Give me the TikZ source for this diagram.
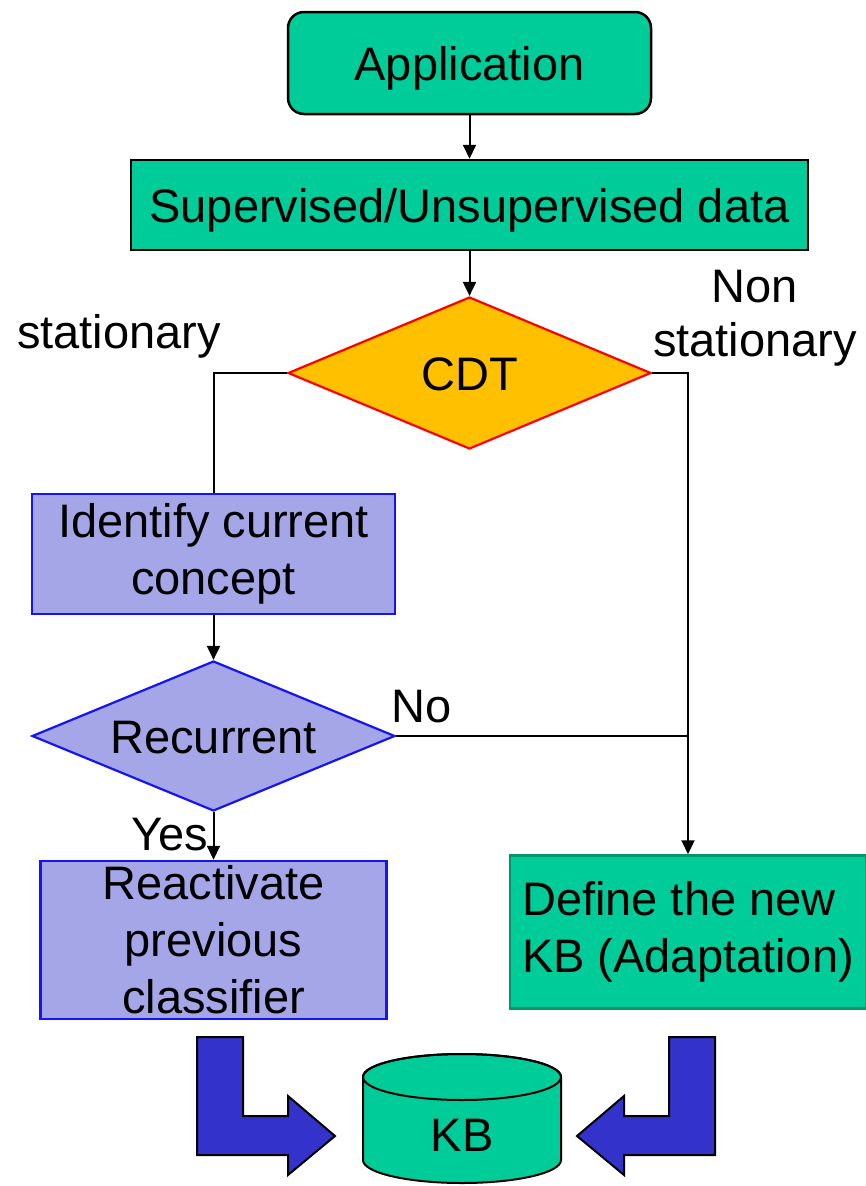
\documentclass[tikz,border=0pt]{standalone}
\usepackage{fontspec}
\setmainfont{Liberation Sans}
\usetikzlibrary{arrows.meta,shapes.geometric}
\definecolor{boxgreen}{RGB}{0,204,153}
\definecolor{defborder}{RGB}{0,150,110}
\definecolor{cdtfill}{RGB}{255,192,0}
\definecolor{lav}{RGB}{164,166,232}
\definecolor{lavborder}{RGB}{20,20,245}
\definecolor{blockblue}{RGB}{51,51,204}
\begin{document}
\begin{tikzpicture}[x=1pt,y=1pt,
  every node/.style={font=\fontsize{47}{57}\selectfont, inner sep=0pt},
  one/.style={text height=34pt,text depth=0pt},
  greenbox/.style={draw=black, line width=2.5pt, fill=boxgreen},
  lavbox/.style={draw=lavborder, line width=2.5pt, fill=lav},
  conn/.style={line width=2pt, draw=black},
  arr/.style={conn, -{Triangle[width=13pt,length=14pt]}},
  block/.style={fill=blockblue, draw=black, line width=2pt, line join=miter},
  dec/.style={diamond, line width=2.2pt, minimum width=363pt, aspect=2.4, one},
]
\useasboundingbox (0,0) rectangle (865,-1186);

% boxes
\node[greenbox, rounded corners=16pt, minimum width=363pt, minimum height=102pt, one] (app) at (469.5,-63) {Application};
\node[greenbox, minimum width=677pt, minimum height=90pt, one] (sup) at (469.5,-205) {Supervised/Unsupervised data};
\node[dec, draw=red, fill=cdtfill, minimum height=152pt] (cdt) at (469.5,-373) {CDT};
\node[lavbox, minimum width=363pt, minimum height=120pt, align=center] (ident) at (213.5,-554) {Identify current\\concept};
\node[dec, draw=lavborder, fill=lav, minimum height=150pt] (rec) at (213.5,-736) {Recurrent};
\node[lavbox, minimum width=346pt, minimum height=158pt, align=center] (react) at (213.5,-940) {Reactivate\\previous\\classifier};
\node[greenbox, draw=defborder, minimum width=356pt, minimum height=153pt, align=left] (def) at (688,-932) {Define the new\\KB (Adaptation)};

% labels
\node[anchor=base] (lstat) at (119,-348) {stationary};
\node[align=center, font=\fontsize{47}{54}\selectfont] (lnon) at (755,-318) {Non\\stationary};
\node[anchor=base] (lno) at (422,-722) {No};
\node[anchor=base] (lyes) at (170,-850) {Yes};

% connectors
\draw[arr] (app.south) -- (sup.north);
\draw[arr] (sup.south) -- (cdt.north);
\draw[conn] (cdt.west) -| (ident.north);
\draw[arr] (cdt.east) -| (def.north);
\draw[arr] (ident.south) -- (rec.north);
\coordinate (join) at (rec.east -| def.north);
\draw[conn] (rec.east) -- (join);
\draw[arr] (rec.south) -- (react.north);

% knowledge base cylinder
\path[draw=black, line width=2pt, fill=boxgreen] (363,-1077) -- (363,-1160)
  arc[start angle=180,end angle=360,x radius=99,y radius=23] -- (561,-1077)
  arc[start angle=0,end angle=180,x radius=99,y radius=23] -- cycle;
\draw[line width=2pt] (462,-1077) ellipse [x radius=99, y radius=23];
\node[one] (kb) at (462,-1134) {KB};

% block arrows
\draw[block] (197,-1037) -- (243,-1037) -- (243,-1116) -- (288,-1116) -- (288,-1096)
  -- (335,-1136) -- (288,-1175) -- (288,-1155) -- (197,-1155) -- cycle;
\draw[block] (715,-1037) -- (669,-1037) -- (669,-1116) -- (624,-1116) -- (624,-1096)
  -- (577,-1136) -- (624,-1175) -- (624,-1155) -- (715,-1155) -- cycle;
\end{tikzpicture}
\end{document}
